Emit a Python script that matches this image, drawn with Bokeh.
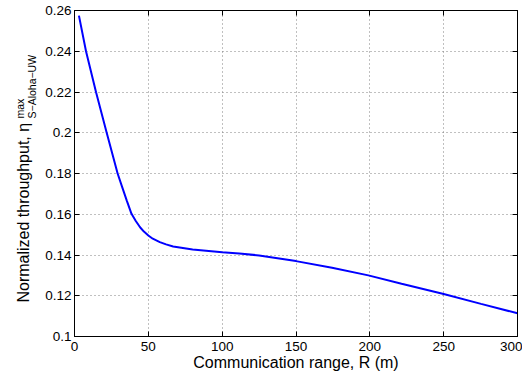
import math
from bokeh.plotting import figure
from bokeh.models import FixedTicker, LinearAxis, Label, Range1d, CustomLabelingPolicy
from bokeh.embed import file_html
from bokeh.resources import INLINE

# Data
R = [3, 7.8, 14.6, 21.8, 29.2, 32.3, 35.4, 38.6, 41.5, 44.4, 47, 50, 53, 57.8, 62, 66.8,
     80, 100, 111.6, 125, 150, 174.4, 199, 221.5, 250, 275.3, 300]
eta = [0.2575, 0.2400, 0.2199, 0.2000, 0.1800, 0.1733, 0.1667, 0.1602, 0.1567, 0.1536,
       0.1515, 0.1496, 0.1480, 0.1463, 0.1452, 0.1442, 0.1427, 0.1413, 0.1407, 0.1398,
       0.1370, 0.1337, 0.1300, 0.1259, 0.1209, 0.1160, 0.1114]

x_ticks = [0, 50, 100, 150, 200, 250, 300]
y_ticks = [0.1, 0.12, 0.14, 0.16, 0.18, 0.2, 0.22, 0.24, 0.26]
y_tick_labels = ["0.1", "0.12", "0.14", "0.16", "0.18", "0.2", "0.22", "0.24", "0.26"]

x_label = "Communication range, R (m)"
y_label = "Normalized throughput, η"
y_sup = "max"
y_sub = "S−Aloha−UW"

FONT = "Liberation Sans"

p = figure(width=522, height=376, x_range=Range1d(0, 300), y_range=Range1d(0.1, 0.26),
           output_backend="svg", toolbar_location=None,
           min_border_left=74, min_border_right=2, min_border_top=10, min_border_bottom=40)
p.background_fill_color = "white"
p.border_fill_color = "white"
p.outline_line_color = "black"
p.outline_line_width = 1
p.outline_line_alpha = 1

p.line(R, eta, line_color="#0000ff", line_width=2)

# grid
p.xgrid.ticker = FixedTicker(ticks=x_ticks)
p.ygrid.ticker = FixedTicker(ticks=y_ticks)
p.grid.grid_line_color = "#808080"
p.grid.grid_line_dash = "1 3"
p.grid.grid_line_width = 1

no_labels = CustomLabelingPolicy(code="""
for (const i of indices) indices.unset(i)
return indices
""")

def style_axis(ax, ticks, show_labels):
    ax.ticker = FixedTicker(ticks=ticks)
    ax.axis_line_color = "black"
    ax.major_tick_in = 5
    ax.major_tick_out = 0
    ax.minor_tick_line_color = None
    ax.major_tick_line_color = "black"
    ax.major_label_text_font = FONT
    ax.major_label_text_color = "#000000"
    if show_labels:
        ax.major_label_text_font_size = "13.5px"
    else:
        ax.major_label_text_font_size = "1px"
        ax.major_label_standoff = 0
        ax.major_label_policy = no_labels

style_axis(p.xaxis[0], x_ticks, True)
style_axis(p.yaxis[0], y_ticks, True)
p.xaxis[0].major_label_standoff = 5
p.yaxis[0].major_label_standoff = 3
p.yaxis[0].major_label_overrides = {t: s for t, s in zip(y_ticks, y_tick_labels)}

p.xaxis[0].axis_label = x_label
p.xaxis[0].axis_label_text_font = FONT
p.xaxis[0].axis_label_text_font_size = "16px"
p.xaxis[0].axis_label_text_font_style = "normal"
p.xaxis[0].axis_label_text_color = "#000000"
p.xaxis[0].axis_label_standoff = 0

top_ax = LinearAxis()
right_ax = LinearAxis()
style_axis(top_ax, x_ticks, False)
style_axis(right_ax, y_ticks, False)
p.add_layout(top_ax, "above")
p.add_layout(right_ax, "right")

# y-axis title (with super- and subscript) drawn in the left side panel
p.add_layout(Label(x=-2, y=34, x_units="screen", y_units="screen", text=y_label,
                   angle=math.pi / 2, text_font=FONT, text_font_size="16px",
                   text_align="left", text_baseline="alphabetic", text_color="#000000"), "left")
p.add_layout(Label(x=6, y=218, x_units="screen", y_units="screen", text=y_sup,
                   angle=math.pi / 2, text_font=FONT, text_font_size="10.5px",
                   text_align="left", text_baseline="alphabetic", text_color="#000000"), "left")
p.add_layout(Label(x=30, y=218, x_units="screen", y_units="screen", text=y_sub,
                   angle=math.pi / 2, text_font=FONT, text_font_size="10.5px",
                   text_align="left", text_baseline="alphabetic", text_color="#000000"), "left")

open("out.html", "w").write(file_html(p, INLINE))
